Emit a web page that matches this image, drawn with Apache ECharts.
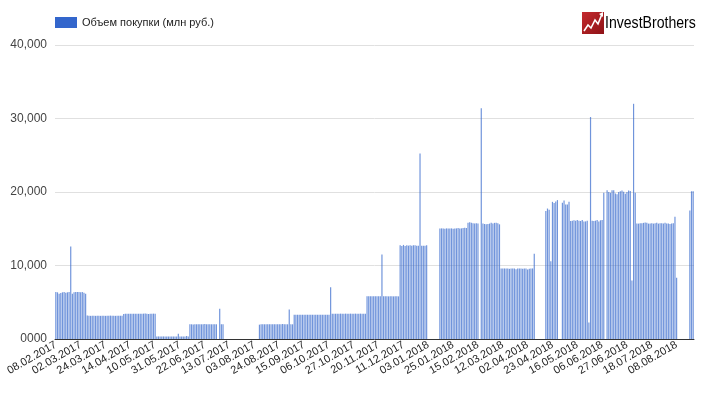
<!DOCTYPE html>
<html>
<head>
<meta charset="utf-8">
<script src="https://cdn.jsdelivr.net/npm/echarts@6/dist/echarts.min.js"></script>
<style>
html,body{margin:0;padding:0;background:#fff;}
#c{width:714px;height:393px;}
</style>
</head>
<body>
<div id="c"></div>
<script>
// Tick labels shown every 15 trading days
var tickLabels = ['08.02.2017','02.03.2017','24.03.2017','14.04.2017','10.05.2017','31.05.2017','22.06.2017','13.07.2017','03.08.2017','24.08.2017','15.09.2017','06.10.2017','27.10.2017','20.11.2017','11.12.2017','03.01.2018','25.01.2018','15.02.2018','12.03.2018','02.04.2018','23.04.2018','16.05.2018','06.06.2018','27.06.2018','18.07.2018','08.08.2018'];
var labelStep = 15;
var seriesName = 'Объем покупки (млн руб.)';

// Daily purchase volume, mln RUB (null = no purchases)
var feb2017 = [6400,6350,6150,6250,6350,6400,6300,6350,6400,12600,6150,6350,6400,6400,6400,6350,6400,6300,6150];
var mar2017 = [3200,3150,3150,3150,3150,3150,3180,3150,3150,3150,3150,3150,3150,3150,3180,3150,3150,3150,3150,3150,3150,3150];
var apr2017 = [3400,3450,3450,3450,3450,3450,3450,3450,3450,3450,3450,3450,3450,3480,3450,3400,3450,3450,3450,3450];
var may2017 = [350,350,350,350,350,350,350,350,350,350,350,350,350,700,350,350,350,350,400,350];
var jun2017 = [2000,2000,1980,2000,2000,2000,2000,2000,2000,2050,2000,2000,2000,2000,2000,2000,2000,null,4100,2000,2000];
var julGap = [null,null,null,null,null,null,null,null,null,null,null,null,null,null,null,null,null,null,null,null,null];
var aug2017 = [1950,2000,2000,2000,2000,2000,2000,2000,2000,2000,2000,2000,2000,2000,2050,2000,2000,2000,4000,2000,2000];
var sep2017 = [3300,3300,3300,3300,3300,3300,3300,3300,3300,3300,3300,3300,3300,3300,3300,3300,3300,3300,3300,3300,3300,3300,7050];
var oct2017 = [3450,3450,3450,3450,3450,3450,3450,3450,3450,3450,3450,3450,3450,3450,3450,3450,3450,3450,3450,3450,3450];
var nov2017 = [5800,5800,5800,5800,5800,5800,5800,5800,5800,11500,5800,5800,5800,5800,5800,5800,5800,5800,5800,5800];
var dec2017 = [12750,12650,12800,12650,12750,12700,12750,12700,12750,12750,12700,12700,25250,12700,12700,12700,12750];
var janGap = [null,null,null,null,null,null,null];
var jan2018 = [15050,15050,15050,15000,15050,15050,15050,15050,15000,15050,15050,15100,15050,15050,15100,15150,15100];
var feb2018 = [15800,15900,15800,15750,15700,15750,15700,null,31400,15700,15650,15600,15650,15700,15800,15700,15800,15800,15750,15600];
var mar2018 = [9600,9600,9600,9600,9600,9550,9600,9600,9600,9500,9600,9600,9600,9550,9600,9600,9450,9550,9600,9600,11600];
var aprGap = [null,null,null,null,null,null];
var may2018 = [17400,17750,17600,10570,18660,18500,18700,18900,null,null,18530,18840,18300,18300,18660];
var jun2018 = [16050,16100,16150,16100,16200,16100,16050,16200,16000,16000,16100,2260,30200,16100,16050,16100,16200,16000,16150,16200,19900,null];
var jul2018 = [20250,20000,19900,20250,20250,19800,19700,20000,20100,20200,20050,19750,20000,20200,20150,7950,32000,19900];
var aug2018 = [15700,15700,15750,15750,15800,15850,15800,15700,15700,15750,15700,15750,15800,15700,15750,15750,15700,15800,15700,15700,15650,15700,15750,16620,8350];
var augGap = [null,null,null,null,null,null,null];
var aug2018b = [17480,20100,20100];

var values = [].concat(feb2017,mar2017,apr2017,may2017,jun2017,julGap,aug2017,sep2017,oct2017,nov2017,dec2017,janGap,jan2018,feb2018,mar2018,aprGap,may2018,jun2018,jul2018,aug2018,augGap,aug2018b);
var categories = values.map(function(v,i){ return i % labelStep === 0 ? tickLabels[i/labelStep] : ''; });

var chart = echarts.init(document.getElementById('c'), null, {renderer:'canvas'});
chart.setOption({
  animation:false,
  backgroundColor:'#ffffff',
  textStyle:{fontFamily:'Arial, "Liberation Sans", sans-serif'},
  legend:{
    left:55, top:17, padding:0, itemWidth:22, itemHeight:11, itemGap:10,
    icon:'rect',
    itemStyle:{color:'#3366cc', opacity:1},
    textStyle:{fontSize:11,color:'#222222',padding:[0,0,0,0],fontFamily:'Arial, "Liberation Sans", sans-serif'},
    data:[seriesName]
  },
  grid:{left:55,right:20,top:45,bottom:54,containLabel:false},
  xAxis:{
    type:'category',
    data:categories,
    boundaryGap:true,
    axisLine:{lineStyle:{color:'#333333',width:1}},
    axisTick:{show:false},
    axisLabel:{
      interval:function(i){return i % labelStep === 0;},
      rotate:30, margin:5, fontSize:11, color:'#222222',
      fontFamily:'Arial, "Liberation Sans", sans-serif'
    },
    splitLine:{show:false}
  },
  yAxis:{
    type:'value', min:0, max:40000, interval:10000,
    axisLine:{show:false}, axisTick:{show:false},
    axisLabel:{
      margin:8, fontSize:12, color:'#444444',
      formatter:function(v){ return v === 0 ? '0000' : v.toLocaleString('en-US'); }
    },
    splitLine:{lineStyle:{color:'#e0e0e0',width:1}}
  },
  graphic:[
    {type:'rect', shape:{x:582,y:12,width:22,height:22}, style:{fill:new echarts.graphic.LinearGradient(0,0,1,1,[{offset:0,color:'#c42a2e'},{offset:1,color:'#8e1216'}])}},
    {type:'polyline', shape:{points:[[584,31],[588,25],[591,28],[595,20],[598,24],[602,14]]}, style:{stroke:'#ffffff',lineWidth:1.6,fill:null}},
    {type:'polygon', shape:{points:[[599,14],[603,12],[603,17]]}, style:{fill:'#ffffff'}},
    {type:'text', x:605, y:16, scaleX:0.88, originX:0, originY:0, style:{
      text:'{a|Invest}{b|Brothers}',
      rich:{
        a:{fontSize:16,color:'#333333',fontFamily:'Arial, "Liberation Sans"'},
        b:{fontSize:16,color:'#c1272d',fontFamily:'Arial, "Liberation Sans"'}
      }
    }}
  ],
  series:[{
    name:seriesName,
    type:'bar',
    data:values,
    itemStyle:{color:'#3366cc', opacity:0.7},
    barCategoryGap:'28%'
  }]
});
</script>
</body>
</html>
